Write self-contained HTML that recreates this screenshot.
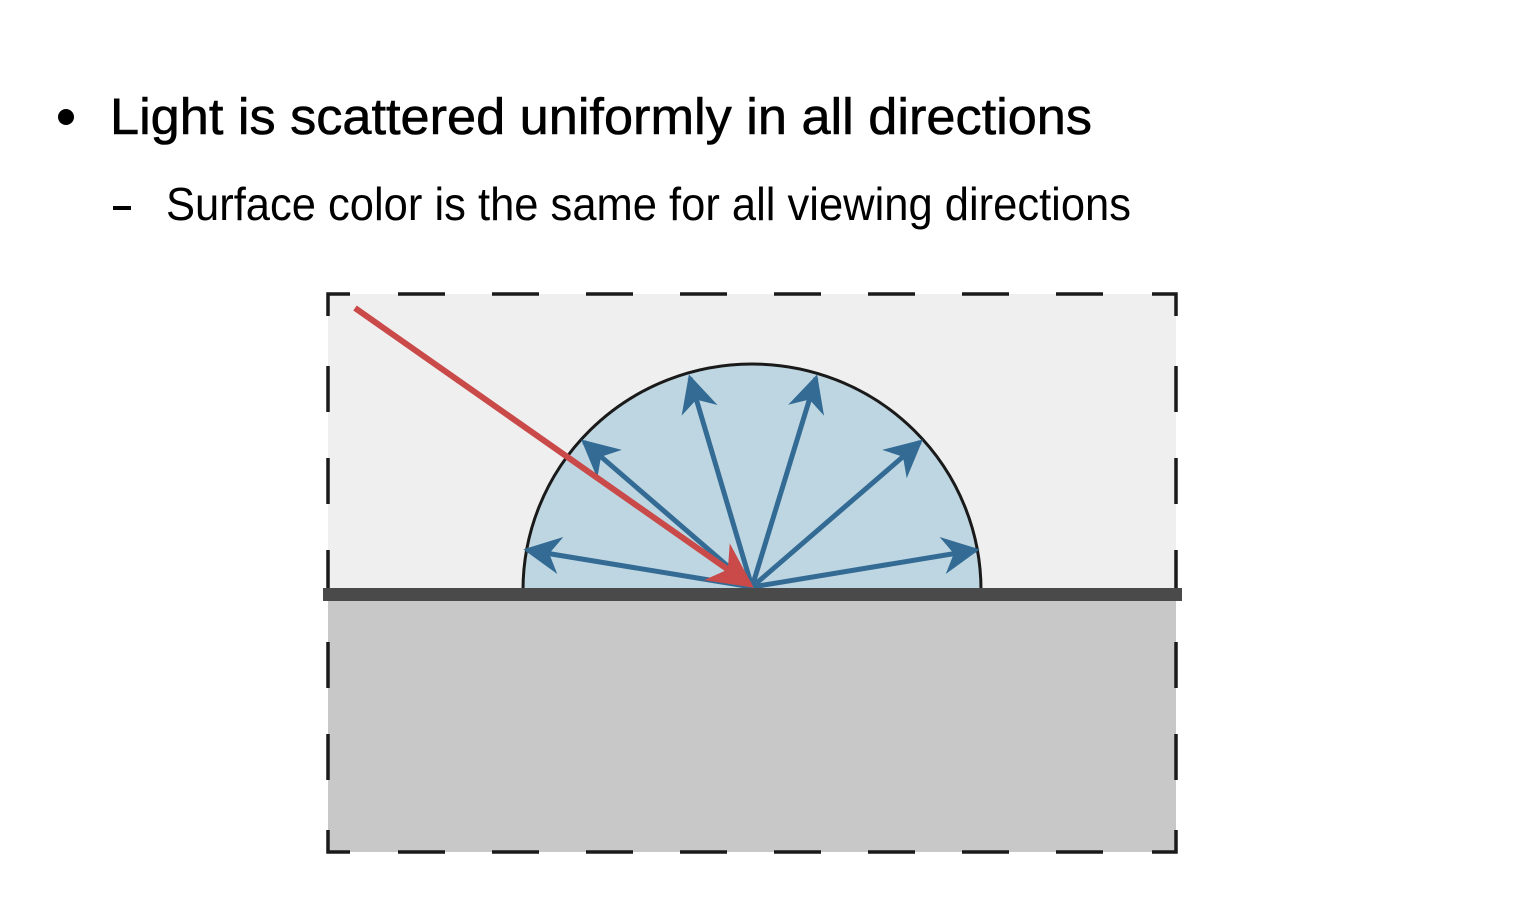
<!DOCTYPE html>
<html><head><meta charset="utf-8"><style>
html,body{margin:0;padding:0;background:#fff;}
svg{display:block;}
text{font-family:"Liberation Sans",sans-serif;}
</style></head><body>
<svg width="1526" height="922" viewBox="0 0 1526 922">
  <defs>
    <marker id="ab" viewBox="0 0 10 10" refX="9" refY="5" markerWidth="7.5" markerHeight="7.5" orient="auto" markerUnits="strokeWidth">
      <path d="M0,0 L10,5 L0,10 L3,5 Z" fill="#336b94"/>
    </marker>
    <marker id="ar" viewBox="0 0 10 10" refX="9" refY="5" markerWidth="7.5" markerHeight="7.5" orient="auto" markerUnits="strokeWidth">
      <path d="M0,0 L10,5 L0,10 L3,5 Z" fill="#c94a48"/>
    </marker>
  </defs>
  <circle cx="66" cy="117" r="8" fill="#000"/>
  <text x="110" y="134" font-size="51" fill="#000" stroke="#000" stroke-width="0.6" textLength="982" lengthAdjust="spacingAndGlyphs">Light is scattered uniformly in all directions</text>
  <rect x="113" y="206" width="18" height="4" fill="#000"/>
  <text x="166" y="220" font-size="46" fill="#000" textLength="965" lengthAdjust="spacingAndGlyphs">Surface color is the same for all viewing directions</text>

  <rect x="328" y="294" width="848" height="301" fill="#efefef"/>
  <rect x="328" y="595" width="848" height="257" fill="#c8c8c8"/>
  <g fill="none" stroke="#1a1a1a" stroke-width="3.5">
    <path d="M328,316 L328,294 L350,294"/>
    <path d="M1152,294 L1176,294 L1176,316"/>
    <path d="M328,830 L328,852 L350,852"/>
    <path d="M1152,852 L1176,852 L1176,830"/>
    <path d="M398,294 H1104" stroke-dasharray="47 47"/>
    <path d="M398,852 H1104" stroke-dasharray="47 47"/>
    <path d="M328,366 V780" stroke-dasharray="46 46"/>
    <path d="M1176,366 V780" stroke-dasharray="46 46"/>
  </g>
  <path d="M523,590 A229,226 0 0 1 981,590 Z" fill="#bed6e1" stroke="#1a1a1a" stroke-width="3"/>
  <g stroke="#336b94" stroke-width="5" fill="none" marker-end="url(#ab)">
    <line x1="752" y1="587" x2="527" y2="550"/>
    <line x1="752" y1="587" x2="584" y2="442"/>
    <line x1="752" y1="587" x2="690" y2="378"/>
    <line x1="752" y1="587" x2="816" y2="378"/>
    <line x1="752" y1="587" x2="920" y2="442"/>
    <line x1="752" y1="587" x2="976" y2="550"/>
  </g>
  <line x1="355" y1="308" x2="750" y2="585" stroke="#c94a48" stroke-width="6" marker-end="url(#ar)"/>
  <rect x="323" y="588" width="859" height="13" fill="#4a4a4a"/>
</svg>
</body></html>
